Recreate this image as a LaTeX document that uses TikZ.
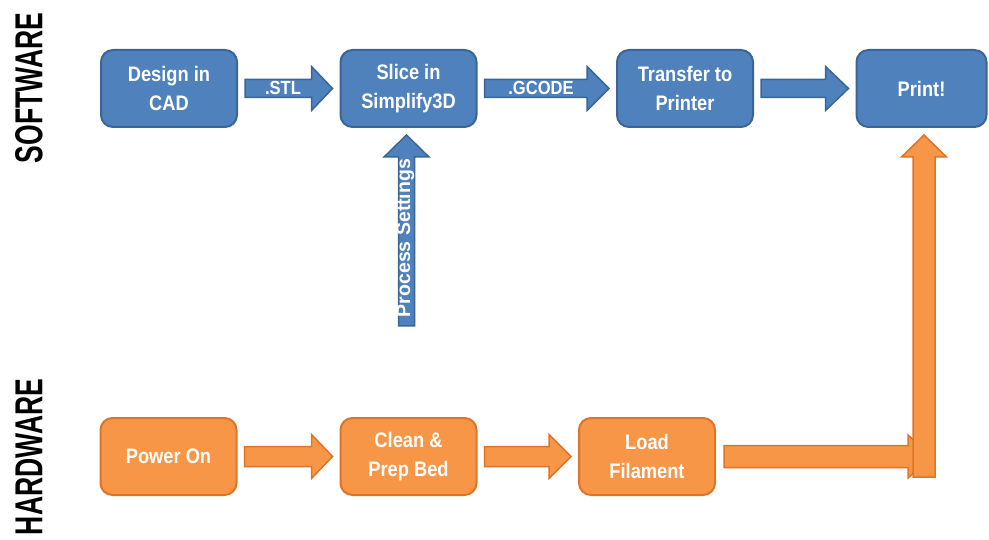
\documentclass[tikz,border=0pt]{standalone}
\usepackage{fontspec}
\usetikzlibrary{calc}
\newfontfamily\condfont{Liberation Sans}[FakeStretch=0.87]
\newfontfamily\sidefont{Liberation Sans}[FakeStretch=0.68]
\newfontfamily\plainfont{Liberation Sans}
\definecolor{bfill}{HTML}{4F81BD}
\definecolor{bline}{HTML}{3A6696}
\definecolor{ofill}{HTML}{F79646}
\definecolor{oline}{HTML}{DF7428}
% horizontal block arrow: style, start, tip, half shaft, half head, head length
\newcommand\hblock[6]{%
  \path[#1] let \p1=(#2), \p2=(#3) in
    (\x1,{\y1+#4pt}) -- ({\x2-#6pt},{\y1+#4pt}) -- ({\x2-#6pt},{\y1+#5pt}) -- (\x2,\y1)
    -- ({\x2-#6pt},{\y1-#5pt}) -- ({\x2-#6pt},{\y1-#4pt}) -- (\x1,{\y1-#4pt}) -- cycle;}
% vertical (upward) block arrow: style, bottom start, tip, half shaft, half head, head length
\newcommand\vblock[6]{%
  \path[#1] let \p1=(#2), \p2=(#3) in
    ({\x1-#4pt},\y1) -- ({\x1-#4pt},{\y2-#6pt}) -- ({\x1-#5pt},{\y2-#6pt}) -- (\x1,\y2)
    -- ({\x1+#5pt},{\y2-#6pt}) -- ({\x1+#4pt},{\y2-#6pt}) -- ({\x1+#4pt},\y1) -- cycle;}
\tikzset{
  box/.style={rounded corners=12, line width=2, minimum width=136, minimum height=77,
    inner sep=0, align=center, text=white,
    font=\condfont\bfseries\fontsize{21}{29}\selectfont},
  bluebox/.style={box, draw=bline, fill=bfill},
  orangebox/.style={box, draw=oline, fill=ofill},
  bluearrow/.style={draw=bline, fill=bfill, line width=1.5, line join=miter},
  orangearrow/.style={draw=oline, fill=ofill, line width=1.5, line join=miter},
  arrowlabel/.style={text=white, inner sep=0, font=\condfont\bfseries\fontsize{19}{22}\selectfont},
  sidelabel/.style={rotate=90, inner sep=0, text=black, font=\sidefont\bfseries\fontsize{39}{40}\selectfont}
}
\begin{document}
\begin{tikzpicture}[x=1pt,y=-1pt]
\useasboundingbox[fill=white] (0,0) rectangle (989,540);

\node[sidelabel] (sw) at (29,88) {SOFTWARE};
\node[sidelabel] (hw) at (29,457) {HARDWARE};

% software row
\node[bluebox] (design) at (169,88.5) {Design in\\CAD};
\node[bluebox] (slice) at (408.5,88.5) {Slice in\\Simplify3D};
\node[bluebox] (transfer) at (685,88.5) {Transfer to\\Printer};
\node[bluebox, minimum width=130] (print) at (921.5,88.5) {Print!};

% hardware row
\node[orangebox] (power) at (168.5,456.5) {Power On};
\node[orangebox] (clean) at (408.5,456.5) {Clean \&\\Prep Bed};
\node[orangebox] (load) at (647,456.5) {Load\\Filament};

% software arrows
\hblock{bluearrow}{$(design.east)+(7,0)$}{$(slice.west)+(-7,0)$}{9}{22}{21}
\hblock{bluearrow}{$(slice.east)+(7,0)$}{$(transfer.west)+(-7,0)$}{9}{22}{22}
\hblock{bluearrow}{$(transfer.east)+(7,0)$}{$(print.west)+(-7,0)$}{9}{22}{23}
\node[arrowlabel] (stl) at (283,88) {.STL};
\node[arrowlabel] (gcode) at (541,88) {.GCODE};

% process settings arrow
\coordinate (psbot) at ($(slice.south)+(-2,198)$);
\vblock{bluearrow}{psbot}{$(slice.south)+(-2,7)$}{8}{22.5}{22}
\node[rotate=90, text=white, inner sep=0, font=\plainfont\bfseries\fontsize{19.5}{22}\selectfont] (ps) at (405,238) {Process Settings};

% hardware arrows
\hblock{orangearrow}{$(power.east)+(7,0)$}{$(clean.west)+(-7,0)$}{10}{22}{21}
\hblock{orangearrow}{$(clean.east)+(7,0)$}{$(load.west)+(-7,0)$}{10}{22}{22}
\coordinate (vbot) at (924,477);
\coordinate (vtip) at ($(print.south)+(2.5,7)$);
\hblock{orangearrow}{$(load.east)+(8,0)$}{$(vbot|-load.east)+(8,0)$}{11}{21.5}{24}
\vblock{orangearrow}{vbot}{vtip}{11}{22.5}{22}
\end{tikzpicture}
\end{document}
